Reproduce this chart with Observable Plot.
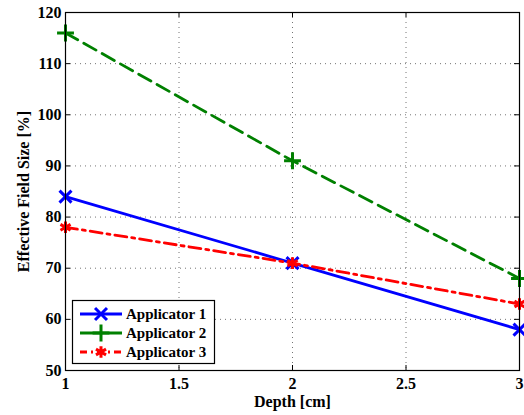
<!DOCTYPE html>
<html><head><meta charset="utf-8">
<script src="https://cdn.jsdelivr.net/npm/d3@7"></script>
<script src="https://cdn.jsdelivr.net/npm/@observablehq/plot@0.6"></script>
<style>
body{margin:0;background:#fff}
svg, svg text{font-family:"Times New Roman","Liberation Serif",Times,"DejaVu Serif",serif !important;}
</style>
</head><body><div id="chart"></div>
<script>
const depths = [1, 2, 3];
const applicators = ["Applicator 1", "Applicator 2", "Applicator 3"];
const app1 = [84, 71, 58];
const app2 = [116, 91, 68];
const app3 = [78, 71, 63];
const xTicks = [1, 1.5, 2, 2.5, 3];
const yTicks = [50, 60, 70, 80, 90, 100, 110, 120];
const xLabel = "Depth [cm]";
const yLabel = "Effective Field Size [%]";

const colors = ["#0000ff", "#008000", "#ff0000"];
const dashes = [null, "14,7", "12,5,3,5"];
const symbols = ["times", "plus", "asterisk"];
const d3symbols = [d3.symbolTimes, d3.symbolPlus, d3.symbolAsterisk];
const seriesVals = [app1, app2, app3];

const W = 524, H = 415, mL = 65, mR = 5, mT = 12, mB = 45;
const innerH = H - mT - mB, innerW = W - mL - mR;
const LW = 2.8;
const FF = '"Times New Roman","Liberation Serif",Times,"DejaVu Serif",serif';

const marks = [
  Plot.gridX(xTicks, {stroke: "#000", strokeOpacity: 0.55, strokeDasharray: "1,4"}),
  Plot.gridY(yTicks, {stroke: "#000", strokeOpacity: 0.55, strokeDasharray: "1,4"}),
  Plot.ruleX(xTicks, {x: d => d, insetTop: innerH - 5, stroke: "#000"}),
  Plot.ruleX(xTicks, {x: d => d, insetBottom: innerH - 5, stroke: "#000"}),
  Plot.ruleY(yTicks, {y: d => d, insetRight: innerW - 5, stroke: "#000"}),
  Plot.ruleY(yTicks, {y: d => d, insetLeft: innerW - 5, stroke: "#000"}),
  Plot.axisX(xTicks, {tickSize: 0, tickPadding: 7, fontSize: 16, fontWeight: "bold", fill: "#000",
    label: xLabel, labelAnchor: "center", labelOffset: 36, labelArrow: "none", tickFormat: d => String(d)}),
  Plot.axisY(yTicks, {tickSize: 0, tickPadding: 4, fontSize: 16, fontWeight: "bold", fill: "#000",
    label: yLabel, labelAnchor: "center", labelOffset: 48, labelArrow: "none", tickFormat: d => String(d)})
];

seriesVals.forEach((vals, i) => {
  const rows = depths.map((d, j) => ({depth: d, value: vals[j]}));
  marks.push(Plot.line(rows, {x: "depth", y: "value", stroke: colors[i], strokeWidth: LW,
    strokeDasharray: dashes[i] || undefined}));
  marks.push(Plot.dot(rows, {x: "depth", y: "value", stroke: colors[i], symbol: symbols[i], r: 5.5, strokeWidth: 3}));
});
marks.push(Plot.frame({stroke: "#000", strokeWidth: 1.2}));

const chart = Plot.plot({
  width: W, height: H,
  marginLeft: mL, marginRight: mR, marginTop: mT, marginBottom: mB,
  style: {fontFamily: FF, fontSize: "16px", background: "#fff", color: "#000"},
  x: {domain: [1, 3], label: null},
  y: {domain: [50, 120], label: null},
  marks
});
document.getElementById("chart").append(chart);

// Legend
const svg = d3.select(chart);
const lg = svg.append("g").attr("class", "legend");
lg.append("rect").attr("x", 72.5).attr("y", 300.5).attr("width", 142).attr("height", 63)
  .attr("fill", "#fff").attr("stroke", "#000").attr("stroke-width", 1.2);
const legendDashes = [null, null, "7,4,2,4"];
applicators.forEach((name, i) => {
  const y = 314 + i * 19;
  lg.append("line").attr("x1", 80).attr("x2", 122).attr("y1", y).attr("y2", y)
    .attr("stroke", colors[i]).attr("stroke-width", LW)
    .attr("stroke-dasharray", legendDashes[i]);
  lg.append("path").attr("d", d3.symbol(d3symbols[i], Math.PI * 5.5 * 5.5)())
    .attr("transform", `translate(101,${y})`)
    .attr("fill", "none").attr("stroke", colors[i]).attr("stroke-width", 3);
  lg.append("text").attr("x", 126).attr("y", y).attr("dy", "0.35em")
    .attr("text-anchor", "start")
    .attr("font-size", 15).attr("font-weight", "bold").attr("fill", "#000").text(name);
});
</script>
</body></html>
